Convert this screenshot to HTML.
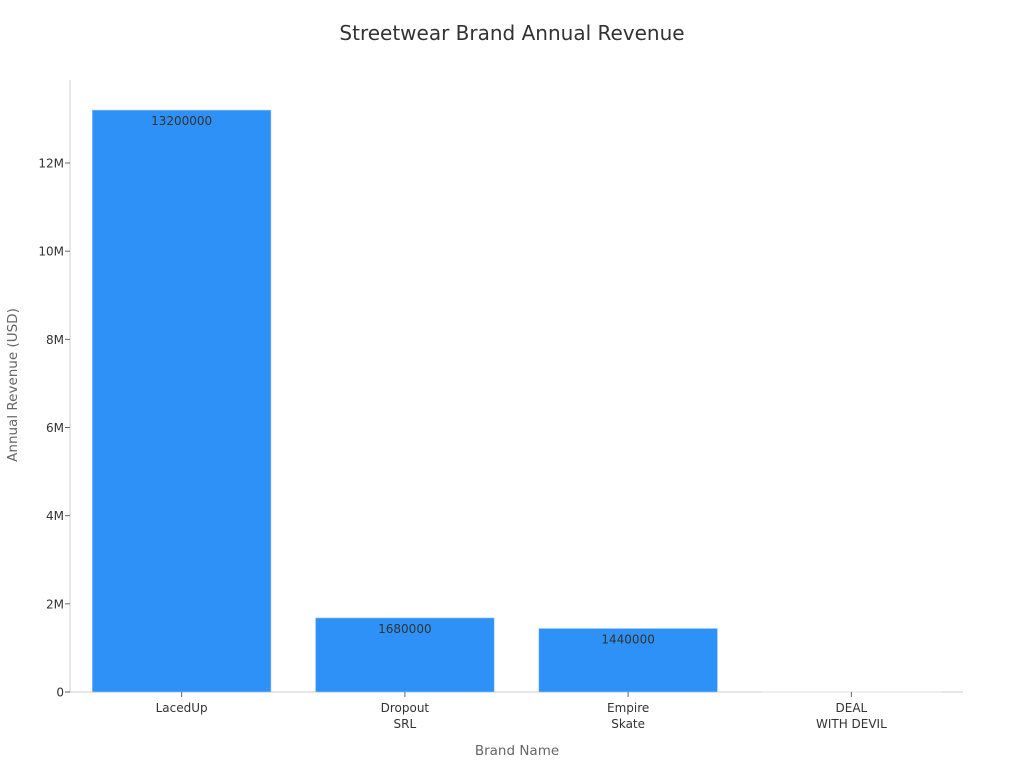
<!DOCTYPE html>
<html><head><meta charset="utf-8"><style>
body{margin:0;background:#fff;}
svg{display:block;font-family:"DejaVu Sans","Liberation Sans",sans-serif;}
</style></head><body>
<svg id="chart" width="1024" height="768">
<text x="512" y="40" text-anchor="middle" font-size="20" fill="#333">Streetwear Brand Annual Revenue</text>
<g id="plot"></g>
<text x="517" y="755" text-anchor="middle" font-size="13.5" fill="#666">Brand Name</text>
<text transform="translate(17,385) rotate(-90)" text-anchor="middle" font-size="13.5" fill="#666">Annual Revenue (USD)</text>
</svg>
<script>
const categories = [["LacedUp"],["Dropout","SRL"],["Empire","Skate"],["DEAL","WITH DEVIL"]];
const values = [13200000, 1680000, 1440000, 0];
const yTicks = [0, 2000000, 4000000, 6000000, 8000000, 10000000, 12000000];
const yTickLabels = ["0","2M","4M","6M","8M","10M","12M"];

const NS="http://www.w3.org/2000/svg";
const g=document.getElementById('plot');
const x0=70,x1=963,yBase=692,yTop=80;
const pxPer=(692-163)/12000000;
const y=v=>yBase-v*pxPer;
const band=(x1-x0)/categories.length;
const bx=i=>x0+band*i+band*0.1;
const bw=band*0.8;
function el(t,a){const e=document.createElementNS(NS,t);for(const k in a)e.setAttribute(k,a[k]);g.appendChild(e);return e;}
let ax=el('line',{x1:x0,y1:yTop,x2:x0,y2:yBase,stroke:'#ccc'});


let bx2=el('line',{x1:x0,y1:yBase,x2:x1,y2:yBase,stroke:'#ccc'});


yTicks.forEach((t,i)=>{
  const tk=el('line',{x1:x0-5,y1:y(t),x2:x0,y2:y(t),stroke:'#666'});
  
  
  const tx=el('text',{x:x0-6,y:y(t)+4.5,'text-anchor':'end','font-size':12,fill:'#333'});
  tx.textContent=yTickLabels[i];
  
  
});
categories.forEach((c,i)=>{
  const v=values[i];
  const r=el('rect',{x:bx(i),y:y(v),width:bw,height:Math.max(yBase-y(v),0.5),fill:v>0?'#2e91f8':'#f2f6fb',stroke:v>0?'#9cc8fa':'#e3ecf6','stroke-width':0.6});
  
  
  if(v>0){
    const lt=el('text',{x:bx(i)+bw/2,y:y(v)+15,'text-anchor':'middle','font-size':12,fill:'#333'});
    lt.textContent=String(v);
    
    
  }
  const cx=bx(i)+bw/2;
  const tk=el('line',{x1:cx,y1:yBase,x2:cx,y2:yBase+5,stroke:'#666'});
  
  
  c.forEach((line,j)=>{
    const t=el('text',{x:cx,y:712+j*16,'text-anchor':'middle','font-size':12,fill:'#333'});
    t.textContent=line;
    
    
  });
});
</script>
</body></html>
